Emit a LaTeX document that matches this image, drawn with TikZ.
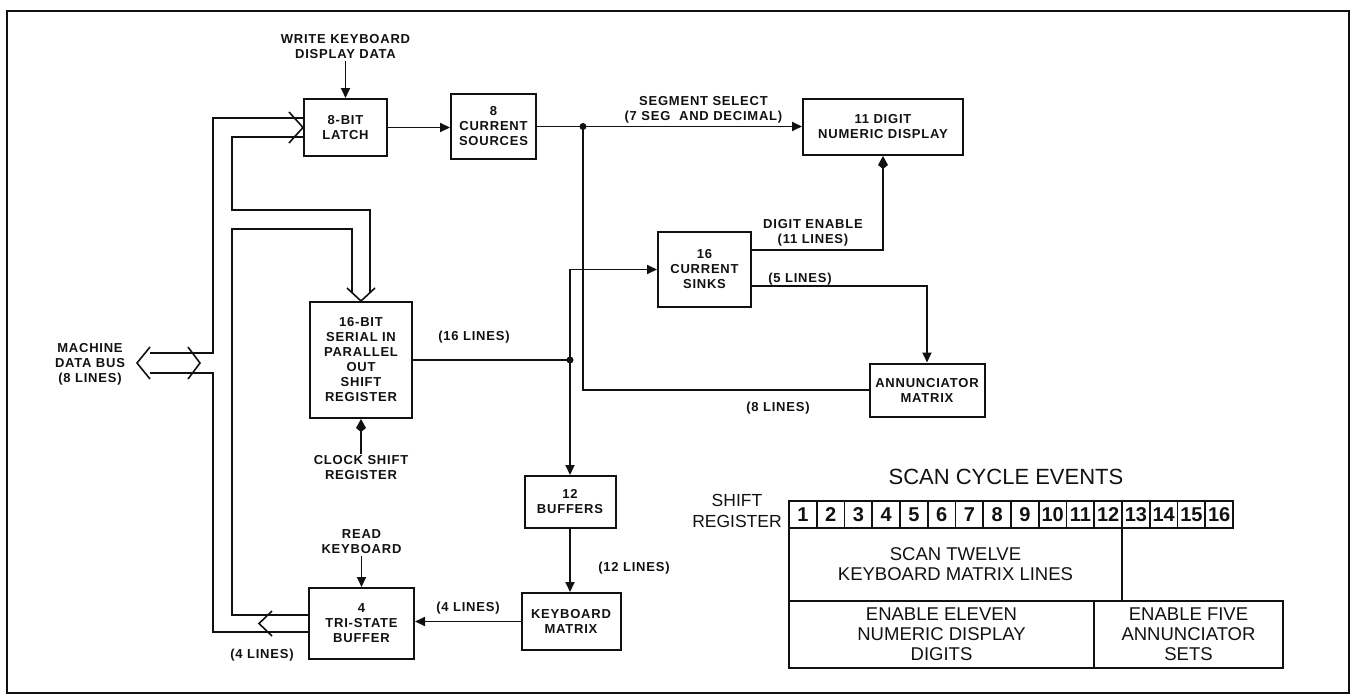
\documentclass[tikz,border=0pt]{standalone}
\usepackage{fontspec}
\setmainfont{Liberation Sans}
\newfontfamily\leroy[LetterSpace=6]{Liberation Sans}
\usetikzlibrary{arrows.meta,positioning,calc}
\definecolor{inkBk}{HTML}{111111}
\newcommand{\lettering}{\leroy\bfseries\fontsize{13}{15}\selectfont}
\newcommand{\tbltext}{\fontsize{18.5}{20}\selectfont}

\begin{document}
\begin{tikzpicture}[x=1pt,y=-1pt,font=\lettering,inkBk,line width=1.8pt,
    blk/.style={draw,line width=2pt,align=center,inner sep=2pt},
    lab/.style={align=center,inner sep=1pt},
    arr/.style={-{Triangle[length=10pt,width=9pt]}},
    karr/.style={-{Kite[length=13pt,width=10pt,inset=4pt]}},
    bus/.style={line width=1.6pt},
    cell/.style={draw,line width=1.6pt,minimum width=27.75pt,minimum height=27pt,
                 inner sep=0pt,font=\bfseries\fontsize{20}{20}\selectfont},
    tblbox/.style={draw,line width=1.6pt,align=center,inner sep=0pt,font=\tbltext}]
  \useasboundingbox (0,0) rectangle (1355,696);
  \draw[line width=2pt] (7,11) rectangle (1349,693);

  % blocks
  \node[lab] (wlab) at (345.5,47) {WRITE KEYBOARD\\DISPLAY DATA};
  \node[blk,minimum width=83pt,minimum height=57pt] (latch) at (345.5,127.5) {8-BIT\\LATCH};
  \node[blk,minimum width=85pt,minimum height=65pt] (src) at (493.5,126.5) {8\\CURRENT\\SOURCES};
  \node[blk,minimum width=160pt,minimum height=56pt] (disp) at (883,127) {11 DIGIT\\NUMERIC DISPLAY};
  \node[blk,minimum width=102pt,minimum height=116pt] (sreg) at (361,360)
    {16-BIT\\SERIAL IN\\PARALLEL\\OUT\\SHIFT\\REGISTER};
  \node[lab] (clab) at (361,468) {CLOCK SHIFT\\REGISTER};
  \node[blk,minimum width=93pt,minimum height=75pt] (sinks) at (704.5,269.5) {16\\CURRENT\\SINKS};
  \node[blk,minimum width=115pt,minimum height=53pt] (ann) at (927,390) {ANNUNCIATOR\\MATRIX};
  \node[blk,minimum width=91pt,minimum height=52pt] (buf) at (570,502) {12\\BUFFERS};
  \node[blk,minimum width=99pt,minimum height=57pt] (kbd) at (571,621.5) {KEYBOARD\\MATRIX};
  \node[blk,minimum width=105pt,minimum height=71pt] (tri) at (361.5,623.5) {4\\TRI-STATE\\BUFFER};
  \node[lab] (rlab) at (361.5,542) {READ\\KEYBOARD};
  \node[lab] (mdb) at (90,364) {MACHINE\\DATA BUS\\(8 LINES)};

  \coordinate (j1) at (583,126.5);
  \coordinate (j2) at (570,360);

  % connectors
  \draw[arr] (wlab) -- (latch);
  \draw[arr] (latch.east) -- (latch.east -| src.west);
  \draw (src.east) -- (j1);
  \draw[arr] (j1) -- (j1 -| disp.west)
    node[lab,pos=0.55,above=1pt] (seglab) {SEGMENT SELECT\\(7 SEG\ \ AND DECIMAL)};
  \draw (ann.west) -| (j1);
  \draw (sreg.east) -- (j2);
  \draw[arr] (j2) |- (sinks.west);
  \draw[arr] (j2) -- (j2 |- buf.north);
  \draw[arr] (buf.south) -- (buf.south |- kbd.north);
  \draw[arr] (kbd.west) -- (kbd.west -| tri.east);
  \draw[karr] ([yshift=19.5pt]sinks.east) -| (disp.south);
  \draw[arr] ([yshift=-16.5pt]sinks.east) -| (ann.north);
  \draw[karr] (clab.north) -- (clab.north |- sreg.south);
  \draw[arr] (rlab.south) -- (rlab.south |- tri.north);
  \fill (j1) circle (3.5pt);
  \fill (j2) circle (3.5pt);

  \node[lab] (l16) at (474,337) {(16 LINES)};
  \node[lab] (l4a) at (468,608) {(4 LINES)};
  \node[lab] (l4b) at (262,655) {(4 LINES)};
  \node[lab] (l12) at (634,568) {(12 LINES)};
  \node[lab] (l8) at (778,408) {(8 LINES)};
  \node[lab] (l5) at (800,279) {(5 LINES)};
  \node[lab] (den) at (813,233) {DIGIT ENABLE\\(11 LINES)};

  % wide bus lines
  \draw[bus] ([yshift=9.5pt]latch.west) -| (213,353) -- (150,353);
  \draw[bus] ([yshift=-9.5pt]latch.west) -| (232,210) -| ([xshift=9pt,yshift=8pt]sreg.north);
  \draw[bus] ([xshift=-9pt,yshift=8pt]sreg.north) |- (232,229) |- ([yshift=8.5pt]tri.west);
  \draw[bus] ([yshift=-8.5pt]tri.west) -| (213,373) -- (150,373);
  \draw[bus] ($(latch.west)+(-14,-15.5)$) -- (latch.west) -- ++(-14,15.5);
  \draw[bus] ($(sreg.north)+(-14,-13)$) -- (sreg.north) -- ++(14,-13);
  \draw[bus] ($(tri.west)+(-36,-12.5)$) -- ++(-13,12.5) -- ++(13,12.5);
  \coordinate (mdbL) at (137,363);
  \coordinate (mdbR) at (200,363);
  \draw[bus] ($(mdbL)+(13,-16)$) -- (mdbL) -- ++(13,16);
  \draw[bus] ($(mdbR)+(-12,-16)$) -- (mdbR) -- ++(-12,16);

  % scan cycle table
  \node[font=\fontsize{22}{24}\selectfont] (ttl) at (1006,477) {SCAN CYCLE EVENTS};
  \node[align=center,font=\fontsize{17.5}{21}\selectfont] (srl) at (737,511) {SHIFT\\REGISTER};
  \foreach \i in {1,...,16}
    \node[cell] (c\i) at ({789+(\i-0.5)*27.75},514.5) {\i};
  \node[tblbox,minimum width=333pt,minimum height=73pt] (scan) at (955.5,564.5)
    {SCAN TWELVE\\KEYBOARD MATRIX LINES};
  \node[tblbox,minimum width=305pt,minimum height=67pt] (dig) at (941.5,634.5)
    {ENABLE ELEVEN\\NUMERIC DISPLAY\\DIGITS};
  \node[tblbox,minimum width=189pt,minimum height=67pt] (ann5) at (1188.5,634.5)
    {ENABLE FIVE\\ANNUNCIATOR\\SETS};
\end{tikzpicture}
\end{document}
